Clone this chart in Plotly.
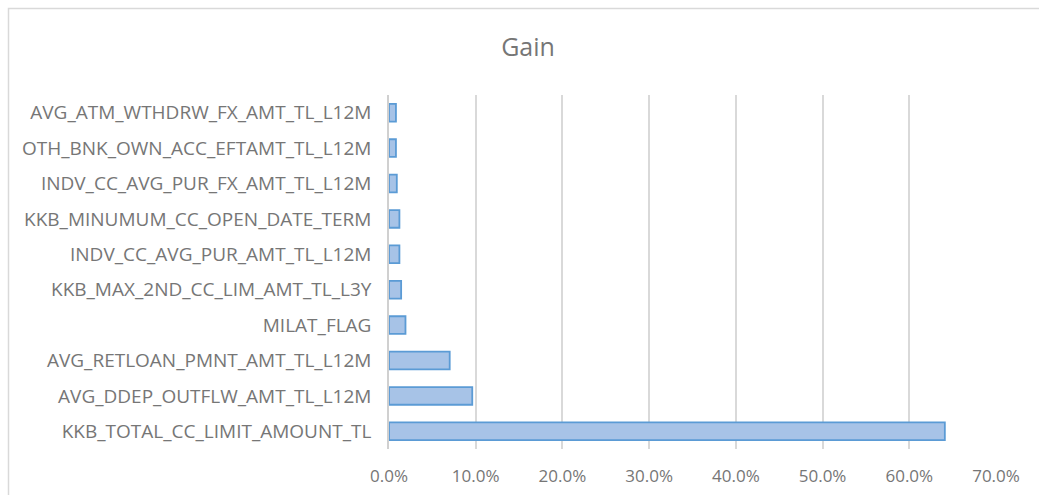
import plotly.graph_objects as go

# Feature importance (gain share), listed bottom-to-top as drawn
features = [
    "KKB_TOTAL_CC_LIMIT_AMOUNT_TL",
    "AVG_DDEP_OUTFLW_AMT_TL_L12M",
    "AVG_RETLOAN_PMNT_AMT_TL_L12M",
    "MILAT_FLAG",
    "KKB_MAX_2ND_CC_LIM_AMT_TL_L3Y",
    "INDV_CC_AVG_PUR_AMT_TL_L12M",
    "KKB_MINUMUM_CC_OPEN_DATE_TERM",
    "INDV_CC_AVG_PUR_FX_AMT_TL_L12M",
    "OTH_BNK_OWN_ACC_EFTAMT_TL_L12M",
    "AVG_ATM_WTHDRW_FX_AMT_TL_L12M",
]
gain = [0.641, 0.096, 0.070, 0.019, 0.014, 0.012, 0.012, 0.009, 0.008, 0.008]

tick_vals = [0, 0.1, 0.2, 0.3, 0.4, 0.5, 0.6, 0.7]
tick_text = ["0.0%", "10.0%", "20.0%", "30.0%", "40.0%", "50.0%", "60.0%", "70.0%"]

W, H = 1039, 495
L, R, T, B = 389, 43, 95, 46
pw, ph = W - L - R, H - T - B

def px_x(p):
    return (p - L) / pw

def px_y(p):
    return (H - B - p) / ph

text_col = "#767676"
font_family = "Open Sans, Liberation Sans, sans-serif"

fig = go.Figure(
    go.Bar(
        x=gain,
        y=features,
        orientation="h",
        marker=dict(color="#a7c3e7", line=dict(color="#5b9bd5", width=1.8)),
        width=0.5,
    )
)

fig.update_layout(
    width=W,
    height=H,
    margin=dict(l=L, r=R, t=T, b=B),
    paper_bgcolor="white",
    plot_bgcolor="white",
    showlegend=False,
    font=dict(family=font_family, color=text_col, size=17),
    title=dict(
        text="Gain",
        x=px_x(528),
        xref="paper",
        xanchor="center",
        y=1 - 47 / H,
        yanchor="middle",
        font=dict(size=25, color=text_col, family=font_family),
    ),
    xaxis=dict(
        range=[0, 0.7],
        tickvals=tick_vals,
        ticktext=tick_text,
        showgrid=True,
        gridcolor="#d9d9d9",
        gridwidth=1.5,
        zeroline=False,
        showline=False,
        ticks="outside",
        ticklen=12,
        tickcolor="rgba(0,0,0,0)",
        tickfont=dict(size=17, color=text_col),
        automargin=False,
    ),
    yaxis=dict(
        showgrid=False,
        zeroline=False,
        showline=True,
        linecolor="#d0d0d0",
        linewidth=1.5,
        ticks="outside",
        ticklen=12,
        tickcolor="rgba(0,0,0,0)",
        tickfont=dict(size=19, color=text_col),
        range=[-0.5, 9.5],
        automargin=False,
    ),
    bargap=0.5,
)

# Chart-area frame (left and top edges visible; the rest runs off the page)
fig.add_shape(
    type="rect",
    xref="paper",
    yref="paper",
    x0=px_x(8.5),
    x1=px_x(W + 20),
    y0=px_y(H + 20),
    y1=px_y(8.5),
    line=dict(color="#d9d9d9", width=1.5),
    fillcolor="rgba(0,0,0,0)",
    layer="below",
)

fig.write_html("out.html")
